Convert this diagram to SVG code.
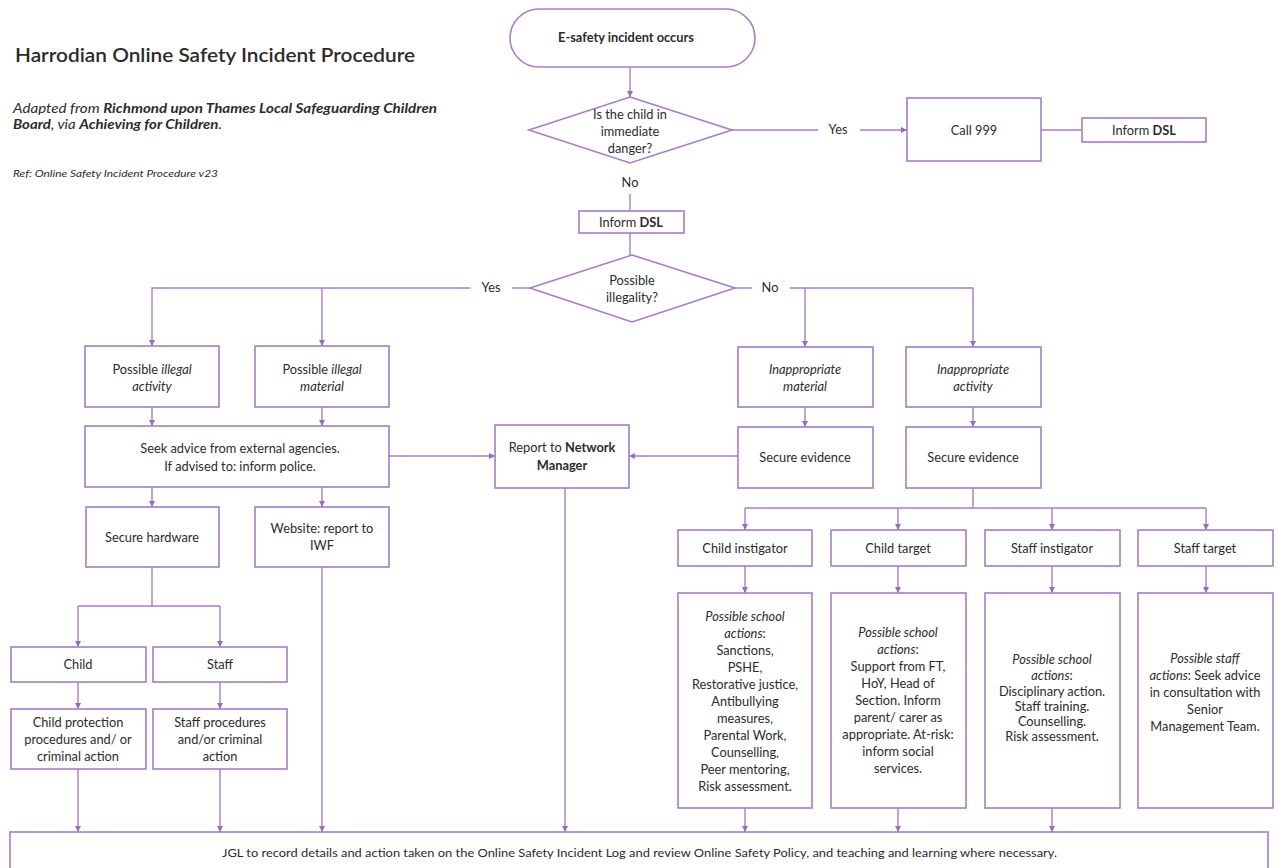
<svg xmlns="http://www.w3.org/2000/svg" width="1279" height="868" viewBox="0 0 1279 868">
<style>
  text { font-family: Lato, "Open Sans", "Liberation Sans", sans-serif; fill: #2b2b2b; }
  .box { fill: #ffffff; stroke: #a67ec6; stroke-width: 1.6; }
  .c { stroke: #a67ec6; stroke-width: 1.4; fill: none; }
  .a { marker-end: url(#ah); }
  .t { font-size: 12.8px; text-anchor: middle; }
  .i { font-style: italic; }
  .b { font-weight: bold; }
</style>
<defs>
  <marker id="ah" viewBox="0 0 6 6" markerWidth="6" markerHeight="6" refX="6" refY="3" orient="auto" markerUnits="userSpaceOnUse">
    <path d="M0,0 L6,3 L0,6 z" fill="#9470b4"/>
  </marker>
</defs>
<rect width="1279" height="868" fill="#ffffff"/>

<g id="header">
  <text x="15" y="62" font-size="20" font-weight="600" textLength="400" lengthAdjust="spacingAndGlyphs">Harrodian Online Safety Incident Procedure</text>
  <text x="13" y="113" font-size="12.5" class="i" textLength="424" lengthAdjust="spacingAndGlyphs">Adapted from <tspan class="b">Richmond upon Thames Local Safeguarding Children</tspan></text>
  <text x="13" y="129" font-size="12.5" class="i" textLength="209" lengthAdjust="spacingAndGlyphs"><tspan class="b">Board</tspan>, via <tspan class="b">Achieving for Children</tspan>.</text>
  <text x="13" y="177" font-size="9.5" class="i" textLength="205" lengthAdjust="spacingAndGlyphs">Ref: Online Safety Incident Procedure v23</text>
</g>

<g id="connectors">
  <path class="c a" d="M630,67 V97"/>
  <path class="c" d="M732,130 H818"/>
  <path class="c a" d="M860,130 H907"/>
  <path class="c" d="M1041,130 H1082"/>
  <path class="c" d="M630,194 V211"/>
  <path class="c" d="M630,233 V255"/>
  <path class="c" d="M530,288 H512"/>
  <path class="c a" d="M470,288 H152 V346"/>
  <path class="c a" d="M322,288 V346"/>
  <path class="c" d="M735,288 H752"/>
  <path class="c a" d="M790,288 H973 V347"/>
  <path class="c a" d="M805,288 V347"/>
  <path class="c a" d="M152,407 V426"/>
  <path class="c a" d="M322,407 V426"/>
  <path class="c a" d="M805,407 V427"/>
  <path class="c a" d="M973,407 V427"/>
  <path class="c a" d="M389,456 H495"/>
  <path class="c a" d="M738,456 H629"/>
  <path class="c a" d="M152,487 V507"/>
  <path class="c a" d="M322,487 V507"/>
  <path class="c" d="M152,567 V606 M78,606 H220"/>
  <path class="c a" d="M78,606 V647"/>
  <path class="c a" d="M220,606 V647"/>
  <path class="c a" d="M78,682 V709"/>
  <path class="c a" d="M220,682 V709"/>
  <path class="c a" d="M78,769 V832"/>
  <path class="c a" d="M220,769 V832"/>
  <path class="c a" d="M322,567 V832"/>
  <path class="c a" d="M565,488 V832"/>
  <path class="c" d="M973,488 V508 M745,508 H1206"/>
  <path class="c a" d="M745,508 V530"/>
  <path class="c a" d="M898,508 V530"/>
  <path class="c a" d="M1052,508 V530"/>
  <path class="c a" d="M1206,508 V530"/>
  <path class="c a" d="M745,566 V593"/>
  <path class="c a" d="M898,566 V593"/>
  <path class="c a" d="M1052,566 V593"/>
  <path class="c a" d="M1206,566 V593"/>
  <path class="c a" d="M745,808 V832"/>
  <path class="c a" d="M898,808 V832"/>
  <path class="c a" d="M1052,808 V832"/>
  <text class="t" x="838" y="134">Yes</text>
  <text class="t" x="630" y="187">No</text>
  <text class="t" x="491" y="292">Yes</text>
  <text class="t" x="770" y="292">No</text>
</g>

<g id="start">
  <rect class="box" x="510" y="9" width="245" height="58" rx="29"/>
  <text class="t b" x="626" y="42">E-safety incident occurs</text>
</g>

<g id="danger">
  <polygon class="box" points="630,97 732,130 630,163 529,130"/>
  <text class="t" x="630" y="119">Is the child in</text>
  <text class="t" x="630" y="136">immediate</text>
  <text class="t" x="630" y="153">danger?</text>
</g>

<g id="call999">
  <rect class="box" x="907" y="98" width="134" height="63"/>
  <text class="t" x="974" y="135">Call 999</text>
</g>

<g id="informdsl1">
  <rect class="box" x="1082" y="118" width="124" height="24"/>
  <text class="t" x="1144" y="135">Inform <tspan class="b">DSL</tspan></text>
</g>

<g id="informdsl2">
  <rect class="box" x="579" y="211" width="105" height="22"/>
  <text class="t" x="631" y="227">Inform <tspan class="b">DSL</tspan></text>
</g>

<g id="illegality">
  <polygon class="box" points="632,255 735,288 632,322 530,288"/>
  <text class="t" x="632" y="285">Possible</text>
  <text class="t" x="632" y="302">illegality?</text>
</g>

<g id="illegalactivity">
  <rect class="box" x="85" y="346" width="134" height="61"/>
  <text class="t" x="152" y="374">Possible <tspan class="i">illegal</tspan></text>
  <text class="t i" x="152" y="391">activity</text>
</g>

<g id="illegalmaterial">
  <rect class="box" x="255" y="346" width="134" height="61"/>
  <text class="t" x="322" y="374">Possible <tspan class="i">illegal</tspan></text>
  <text class="t i" x="322" y="391">material</text>
</g>

<g id="inappmaterial">
  <rect class="box" x="738" y="347" width="135" height="60"/>
  <text class="t i" x="805" y="374">Inappropriate</text>
  <text class="t i" x="805" y="391">material</text>
</g>

<g id="inappactivity">
  <rect class="box" x="906" y="347" width="135" height="60"/>
  <text class="t i" x="973" y="374">Inappropriate</text>
  <text class="t i" x="973" y="391">activity</text>
</g>

<g id="seekadvice">
  <rect class="box" x="85" y="426" width="304" height="61"/>
  <text class="t" x="240" y="453">Seek advice from external agencies.</text>
  <text class="t" x="240" y="471">If advised to: inform police.</text>
</g>

<g id="reportnm">
  <rect class="box" x="495" y="425" width="134" height="63"/>
  <text class="t" x="562" y="452">Report to <tspan class="b">Network</tspan></text>
  <text class="t b" x="562" y="470">Manager</text>
</g>

<g id="secureevidence1">
  <rect class="box" x="738" y="427" width="135" height="61"/>
  <text class="t" x="805" y="462">Secure evidence</text>
</g>

<g id="secureevidence2">
  <rect class="box" x="906" y="427" width="135" height="61"/>
  <text class="t" x="973" y="462">Secure evidence</text>
</g>

<g id="securehardware">
  <rect class="box" x="86" y="507" width="133" height="60"/>
  <text class="t" x="152" y="542">Secure hardware</text>
</g>

<g id="website">
  <rect class="box" x="255" y="507" width="134" height="60"/>
  <text class="t" x="322" y="533">Website: report to</text>
  <text class="t" x="322" y="550">IWF</text>
</g>

<g id="child">
  <rect class="box" x="11" y="647" width="135" height="35"/>
  <text class="t" x="78" y="669">Child</text>
</g>

<g id="staff">
  <rect class="box" x="153" y="647" width="134" height="35"/>
  <text class="t" x="220" y="669">Staff</text>
</g>

<g id="childprotection">
  <rect class="box" x="11" y="709" width="135" height="60"/>
  <text class="t" x="78" y="727">Child protection</text>
  <text class="t" x="78" y="744">procedures and/ or</text>
  <text class="t" x="78" y="761">criminal action</text>
</g>

<g id="staffprocedures">
  <rect class="box" x="153" y="709" width="134" height="60"/>
  <text class="t" x="220" y="727">Staff procedures</text>
  <text class="t" x="220" y="744">and/or criminal</text>
  <text class="t" x="220" y="761">action</text>
</g>

<g id="childinstigator">
  <rect class="box" x="678" y="530" width="134" height="36"/>
  <text class="t" x="745" y="553">Child instigator</text>
</g>

<g id="childtarget">
  <rect class="box" x="831" y="530" width="135" height="36"/>
  <text class="t" x="898" y="553">Child target</text>
</g>

<g id="staffinstigator">
  <rect class="box" x="985" y="530" width="135" height="36"/>
  <text class="t" x="1052" y="553">Staff instigator</text>
</g>

<g id="stafftarget">
  <rect class="box" x="1138" y="530" width="135" height="36"/>
  <text class="t" x="1205" y="553">Staff target</text>
</g>

<g id="childinstigatoractions">
  <rect class="box" x="678" y="593" width="134" height="215"/>
  <text class="t" x="745" y="621"><tspan class="i">Possible school</tspan></text>
  <text class="t" x="745" y="638"><tspan class="i">actions</tspan>:</text>
  <text class="t" x="745" y="655">Sanctions,</text>
  <text class="t" x="745" y="672">PSHE,</text>
  <text class="t" x="745" y="689">Restorative justice,</text>
  <text class="t" x="745" y="706">Antibullying</text>
  <text class="t" x="745" y="723">measures,</text>
  <text class="t" x="745" y="740">Parental Work,</text>
  <text class="t" x="745" y="757">Counselling,</text>
  <text class="t" x="745" y="774">Peer mentoring,</text>
  <text class="t" x="745" y="791">Risk assessment.</text>
</g>

<g id="childtargetactions">
  <rect class="box" x="831" y="593" width="135" height="215"/>
  <text class="t i" x="898" y="637">Possible school</text>
  <text class="t" x="898" y="654"><tspan class="i">actions</tspan>:</text>
  <text class="t" x="898" y="671">Support from FT,</text>
  <text class="t" x="898" y="688">HoY, Head of</text>
  <text class="t" x="898" y="705">Section. Inform</text>
  <text class="t" x="898" y="722">parent/ carer as</text>
  <text class="t" x="898" y="739">appropriate. At-risk:</text>
  <text class="t" x="898" y="756">inform social</text>
  <text class="t" x="898" y="773">services.</text>
</g>

<g id="staffinstigatoractions">
  <rect class="box" x="985" y="593" width="135" height="215"/>
  <text class="t i" x="1052" y="664">Possible school</text>
  <text class="t" x="1052" y="680"><tspan class="i">actions</tspan>:</text>
  <text class="t" x="1052" y="696">Disciplinary action.</text>
  <text class="t" x="1052" y="711">Staff training.</text>
  <text class="t" x="1052" y="726">Counselling.</text>
  <text class="t" x="1052" y="741">Risk assessment.</text>
</g>

<g id="stafftargetactions">
  <rect class="box" x="1138" y="593" width="135" height="215"/>
  <text class="t i" x="1205" y="663">Possible staff</text>
  <text class="t" x="1205" y="680"><tspan class="i">actions</tspan>: Seek advice</text>
  <text class="t" x="1205" y="697">in consultation with</text>
  <text class="t" x="1205" y="714">Senior</text>
  <text class="t" x="1205" y="731">Management Team.</text>
</g>

<g id="record">
  <rect class="box" x="10" y="832" width="1258" height="44"/>
  <text x="222" y="857" font-size="10.5" textLength="835" lengthAdjust="spacingAndGlyphs">JGL to record details and action taken on the Online Safety Incident Log and review Online Safety Policy, and teaching and learning where necessary.</text>
</g>
</svg>
